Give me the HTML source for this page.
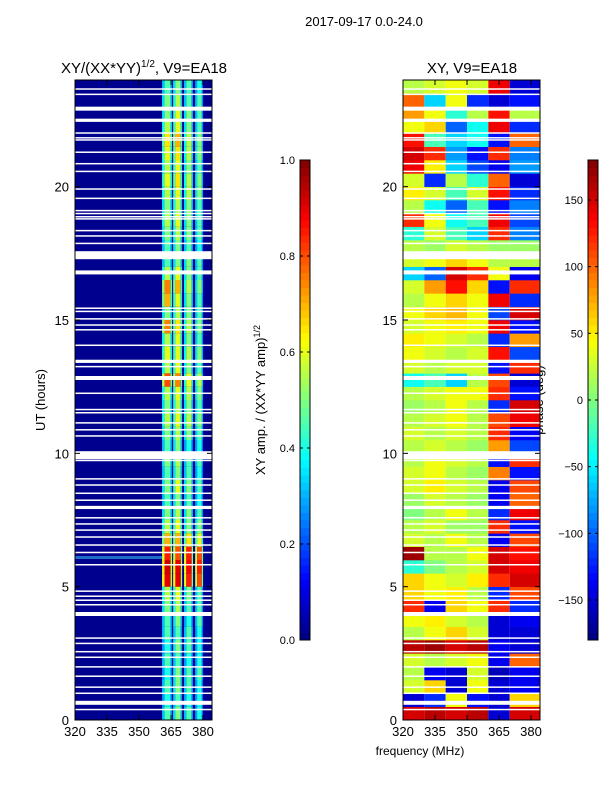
<!DOCTYPE html>
<html><head><meta charset="utf-8"><style>
body{margin:0;background:#fff;}
svg text{font-family:"Liberation Sans",sans-serif;fill:#000;}
</style></head><body>
<svg id="fig" width="600" height="800" xmlns="http://www.w3.org/2000/svg">
<rect width="600" height="800" fill="#fff"/>
<text x="364" y="26" font-size="13" text-anchor="middle">2017-09-17 0.0-24.0</text>
<text x="144" y="73" font-size="15" text-anchor="middle">XY/(XX*YY)<tspan font-size="10" dy="-6">1/2</tspan><tspan dy="6">, V9=EA18</tspan></text>
<text x="472" y="73" font-size="15" text-anchor="middle">XY, V9=EA18</text>
<text transform="translate(45,400) rotate(-90)" font-size="13" text-anchor="middle">UT (hours)</text>
<text transform="translate(265,400) rotate(-90)" font-size="13" text-anchor="middle">XY amp. / (XX*YY amp)<tspan font-size="9" dy="-5">1/2</tspan></text>
<text transform="translate(543,400) rotate(-90)" font-size="13" text-anchor="middle">phase (deg)</text>
<text x="420" y="755" font-size="12" text-anchor="middle">frequency (MHz)</text>
<g id="L"></g><g id="R"></g><g id="C"></g>
</svg>
<script>
const xTicks=[320,335,350,365,380];
const yTicks=[0,5,10,15,20];
const ampTicks=[0.0,0.2,0.4,0.6,0.8,1.0];
const phaseTicks=[-150,-100,-50,0,50,100,150];
const bandEdges=[[360.8,365.5],[366,370.2],[371.1,375.3],[376.3,380]];
const ampRows=[
[0.45,0.5,0.45,0.4],[0.4,0.45,0.4,0.4],[0.45,0.5,0.45,0.4],[0.4,0.5,0.45,0.45],
[0.45,0.45,0.4,0.4],[0.4,0.5,0.45,0.4],[0.45,0.45,0.45,0.4],[0.45,0.5,0.4,0.45],
[0.5,0.55,0.45,0.45],[0.55,0.6,0.5,0.45],[0.9,0.9,0.85,0.8],[0.92,0.9,0.88,0.85],
[0.85,0.8,0.85,0.8],[0.7,0.7,0.65,0.6],[0.55,0.6,0.5,0.5],[0.5,0.55,0.5,0.45],
[0.45,0.5,0.45,0.4],[0.5,0.6,0.5,0.45],[0.45,0.5,0.45,0.4],[0.5,0.55,0.45,0.45],
[0.45,0.5,0.4,0.4],[0.5,0.55,0.5,0.45],[0.55,0.6,0.55,0.5],[0.5,0.55,0.5,0.45],
[0.55,0.6,0.55,0.5],[0.8,0.75,0.6,0.55],[0.55,0.6,0.5,0.45],[0.6,0.6,0.55,0.5],
[0.55,0.6,0.5,0.45],[0.75,0.65,0.55,0.5],[0.5,0.55,0.5,0.45],[0.7,0.6,0.5,0.45],
[0.75,0.7,0.55,0.5],[0.55,0.6,0.5,0.45],[0.45,0.5,0.5,0.45],[0.45,0.5,0.45,0.4],
[0.5,0.55,0.5,0.45],[0.55,0.6,0.5,0.45],[0.5,0.55,0.5,0.45],[0.55,0.6,0.55,0.5],
[0.6,0.65,0.55,0.5],[0.55,0.6,0.5,0.45],[0.6,0.65,0.55,0.5],[0.65,0.7,0.55,0.5],
[0.55,0.6,0.5,0.45],[0.5,0.6,0.5,0.45],[0.5,0.55,0.45,0.45],[0.45,0.5,0.45,0.4]];
const phaseCols=[320,330,340,350,360,370,384];
const phaseRows=[
[150,160,150,160,-150,150],[-150,-120,40,-130,-150,60],[30,60,-150,40,-150,-140],[20,-140,-150,30,-160,-140],
[30,20,30,40,-140,100],[160,170,150,160,-140,-150],[20,40,60,30,-150,-150],[40,50,30,20,-150,-140],
[120,-140,60,40,120,-120],[60,40,50,20,-120,110],[60,40,30,50,120,150],[-30,0,20,30,150,140],
[170,20,20,40,150,130],[30,20,40,20,-140,110],[20,30,10,10,120,-130],[0,20,40,20,-120,140],
[10,30,20,10,-140,100],[30,50,30,20,-140,110],[30,40,20,10,90,-130],[20,40,30,20,-130,120],
[20,30,20,10,80,-110],[30,20,30,20,120,-140],[20,30,40,20,110,140],[10,20,40,20,-120,150],
[20,30,40,40,120,-130],[-40,-20,-60,20,110,-150],[30,20,30,30,-130,120],[40,30,20,30,130,-110],
[50,40,30,20,-120,80],[30,40,50,40,140,-130],[40,60,70,40,-110,150],[20,40,60,40,140,-120],
[30,80,130,60,-130,120],[-60,-100,150,120,40,-140],[30,40,60,40,20,20],[20,10,30,20,10,10],
[-30,30,-20,-60,120,-90],[120,40,-40,-20,140,-110],[20,-40,-100,-20,-130,-90],[50,30,-20,30,130,-120],
[30,-120,20,-30,100,-150],[140,50,-60,-110,-140,-80],[150,120,-80,-130,120,-90],[130,-20,-60,-40,-130,100],
[40,60,-100,-40,140,-120],[80,40,-30,20,130,20],[100,-60,40,-120,-150,-130],[20,30,40,30,140,-150]];
const gapUT=[23.69,23.49,23.0,22.55,22.04,21.86,21.78,21.32,20.89,20.6,19.94,19.59,19.13,19.02,18.9,18.82,18.38,18.18,17.9,17.58,16.86,15.47,15.35,15.07,14.84,14.66,14.08,13.51,13.28,12.9,12.28,11.67,11.55,11.17,10.91,10.68,10.08,9.76,9.07,8.84,8.53,8.27,8.03,7.61,7.38,7.15,6.89,6.59,6.31,5.85,4.86,4.67,4.52,4.35,4.05,3.1,2.9,2.59,2.38,2.02,1.67,1.26,1.03,0.72,0.42];
const gapHours=[0.04,0.04,0.15,0.12,0.04,0.04,0.04,0.04,0.04,0.04,0.04,0.04,0.04,0.04,0.04,0.04,0.04,0.04,0.04,0.3,0.15,0.04,0.04,0.04,0.04,0.04,0.04,0.12,0.04,0.15,0.04,0.04,0.04,0.04,0.04,0.04,0.3,0.04,0.04,0.04,0.04,0.04,0.12,0.04,0.04,0.04,0.04,0.04,0.04,0.04,0.04,0.04,0.04,0.04,0.15,0.04,0.04,0.04,0.04,0.04,0.04,0.04,0.04,0.15,0.04];

const NS='http://www.w3.org/2000/svg';
function jet(v){v=Math.max(0,Math.min(1,v));
 const f=t=>Math.max(0,Math.min(1,1.5-Math.abs(4*v-t)));
 return `rgb(${Math.round(255*f(3))},${Math.round(255*f(2))},${Math.round(255*f(1))})`;}
function el(p,tag,a){const e=document.createElementNS(NS,tag);for(const k in a)e.setAttribute(k,a[k]);p.appendChild(e);return e;}
const yS=u=>720-u*(640/24);
const xL=f=>75+(f-320)*(137/64.2);
const xR=f=>403+(f-320)*(137/64.2);
const L=document.getElementById('L'),R=document.getElementById('R'),C=document.getElementById('C');

let bg=el(L,'rect',{x:75,y:80,width:137,height:640,fill:'#00008f'});


let st=el(L,'rect',{x:75,y:yS(6.15),width:95,height:3,fill:'#2a9fe0',opacity:0.7});


ampRows.forEach((row,i)=>{row.forEach((v,b)=>{
 const [f0,f1]=bandEdges[b];const x0=xL(f0),x1=xL(f1),w=x1-x0;
 const y=yS((i+1)*0.5),h=yS(i*0.5)-y;
 let c=el(L,'rect',{x:x0,y:y,width:w*0.25,height:h,fill:jet(v*0.7)});
 
 
 c=el(L,'rect',{x:x0+w*0.25,y:y,width:w*0.6,height:h,fill:jet(v)});
 
 
 c=el(L,'rect',{x:x0+w*0.85,y:y,width:w*0.15,height:h,fill:jet(v*0.6)});
 
 
});});
phaseRows.forEach((row,i)=>{row.forEach((v,j)=>{
 const x0=xR(phaseCols[j]),x1=Math.min(540,xR(phaseCols[j+1]));
 const y=yS((i+1)*0.5),h=yS(i*0.5)-y;
 const c=el(R,'rect',{x:x0,y:y,width:x1-x0,height:h+0.3,fill:jet((v+180)/360)});
 
 
});});
gapUT.forEach((u,i)=>{[[75,137],[403,137]].forEach(([x,w])=>{
 const g=el(x<300?L:R,'rect',{x:x,y:yS(u),width:w,height:Math.max(1.5,gapHours[i]*640/24),fill:'#fff'});
 
 
});});
[75,403].forEach(px=>{
 const f=el(C,'rect',{x:px,y:80,width:137,height:640,fill:'none',stroke:'#000','stroke-width':1});
 
 
 const xs=px<300?xL:xR;
 xTicks.forEach(t=>{const x=xs(t);
  el(C,'line',{x1:x,y1:720,x2:x,y2:715,stroke:'#000'});el(C,'line',{x1:x,y1:80,x2:x,y2:85,stroke:'#000'});
  const tx=el(C,'text',{x:x,y:736,'font-size':13,'text-anchor':'middle'});tx.textContent=t;
  
  });
 yTicks.forEach(t=>{const y=yS(t);
  el(C,'line',{x1:px,y1:y,x2:px+5,y2:y,stroke:'#000'});el(C,'line',{x1:px+137,y1:y,x2:px+132,y2:y,stroke:'#000'});
  const tx=el(C,'text',{x:px-6,y:y+5,'font-size':13,'text-anchor':'end'});tx.textContent=t;
  
  });
});
function cbar(x,vmin,vmax,ticks,fmt,name){
 const N=64;
 for(let k=0;k<N;k++){const r=el(C,'rect',{x:x,y:640-(k+1)*480/N,width:10,height:480/N+0.5,fill:jet((k+0.5)/N)});
  
  }
 const f=el(C,'rect',{x:x,y:160,width:10,height:480,fill:'none',stroke:'#000'});
 
 
 ticks.forEach(t=>{const y=640-(t-vmin)/(vmax-vmin)*480;
  el(C,'line',{x1:x,y1:y,x2:x+3,y2:y,stroke:'#000'});el(C,'line',{x1:x+10,y1:y,x2:x+7,y2:y,stroke:'#000'});
  const tx=el(C,'text',{x:x-5,y:y+4,'font-size':11,'text-anchor':'end'});tx.textContent=fmt(t);
  
  });
}
cbar(300,0,1,ampTicks,t=>t.toFixed(1),'amp-colorbar');
cbar(588,-180,180,phaseTicks,t=>(t<0?'\u2212'+(-t):''+t),'phase-colorbar');
</script>
</body></html>
